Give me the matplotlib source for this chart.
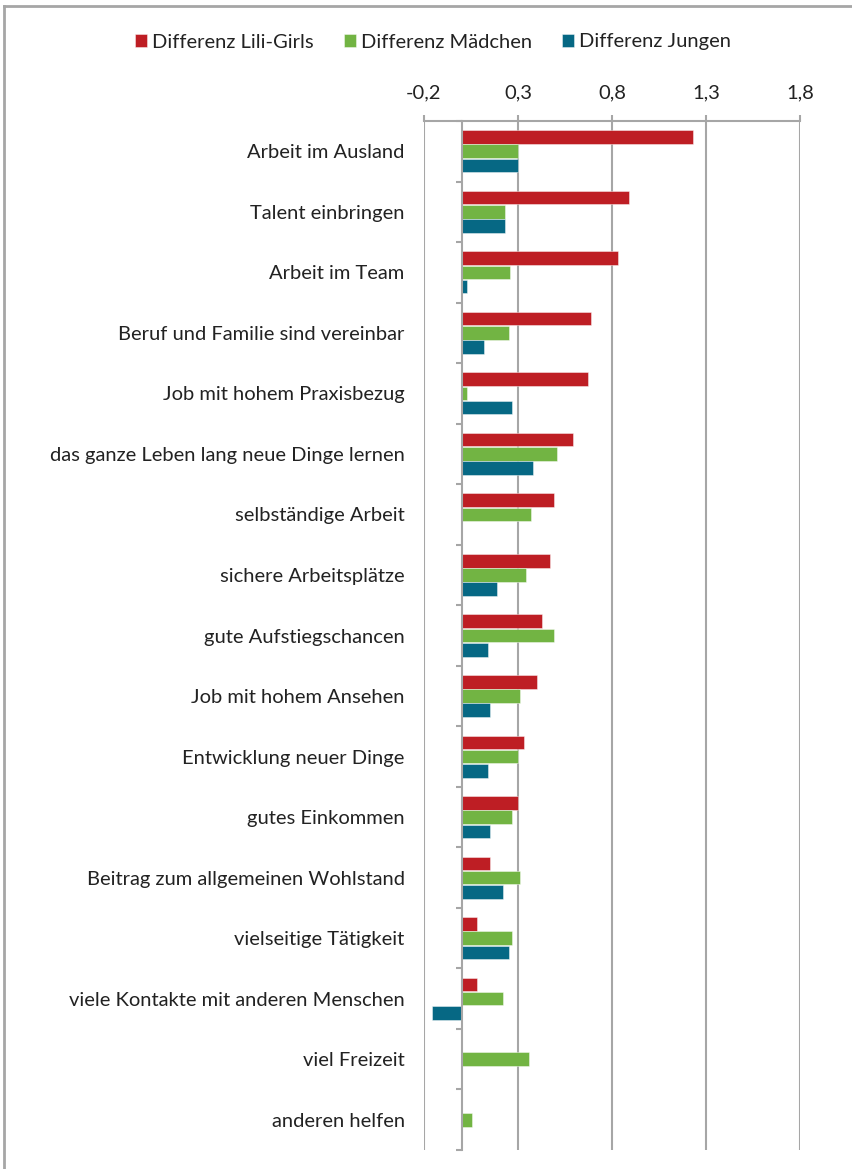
import matplotlib.pyplot as plt
from matplotlib.lines import Line2D
import numpy as np

plt.rcParams['font.family'] = ['Lato', 'DejaVu Sans']

categories = ['Arbeit im Ausland', 'Talent einbringen', 'Arbeit im Team',
              'Beruf und Familie sind vereinbar', 'Job mit hohem Praxisbezug',
              'das ganze Leben lang neue Dinge lernen', 'selbständige Arbeit',
              'sichere Arbeitsplätze', 'gute Aufstiegschancen', 'Job mit hohem Ansehen',
              'Entwicklung neuer Dinge', 'gutes Einkommen',
              'Beitrag zum allgemeinen Wohlstand', 'vielseitige Tätigkeit',
              'viele Kontakte mit anderen Menschen', 'viel Freizeit', 'anderen helfen']
lili_girls = [1.23, 0.89, 0.83, 0.69, 0.67, 0.59, 0.49, 0.47, 0.43, 0.40,
              0.33, 0.30, 0.15, 0.08, 0.08, 0.0, 0.0]
maedchen = [0.30, 0.23, 0.26, 0.25, 0.03, 0.51, 0.37, 0.34, 0.49, 0.31,
            0.30, 0.27, 0.31, 0.27, 0.22, 0.36, 0.055]
jungen = [0.30, 0.23, 0.03, 0.12, 0.27, 0.38, 0.0, 0.19, 0.14, 0.15,
          0.14, 0.15, 0.22, 0.25, -0.16, 0.0, 0.0]
series = [('Differenz Lili-Girls', lili_girls, '#BE1E24'),
          ('Differenz Mädchen', maedchen, '#72B443'),
          ('Differenz Jungen', jungen, '#066884')]
xticks = [-0.2, 0.3, 0.8, 1.3, 1.8]

grey = '#A6A6A6'
txt = '#222222'
fig = plt.figure(figsize=(8.53, 11.69), dpi=100)
ax = fig.add_axes([424 / 853, 1 - 1150 / 1169, 376 / 853, 1029 / 1169])

y = np.arange(len(categories))
h = 0.225
for i, (name, vals, col) in enumerate(series):
    ax.barh(y + (i - 1) * (h + 0.01), vals, height=h, color=col,
            edgecolor=(1, 1, 1, 0.5), linewidth=0.6, label=name, zorder=3)

ax.set_xlim(-0.2, 1.8)
ax.set_ylim(len(categories) - 0.5, -0.5)
ax.xaxis.tick_top()
ax.set_xticks(xticks)
ax.set_xticklabels([f'{t:.1f}'.replace('.', ',') for t in xticks])
ax.tick_params(axis='x', length=4, width=1.5, color=grey, pad=10,
               labelsize=14.5, labelcolor=txt)
ax.grid(axis='x', color=grey, linewidth=1.5, zorder=0)

for s in ['right', 'bottom']:
    ax.spines[s].set_visible(False)
ax.spines['top'].set_color(grey)
ax.spines['top'].set_linewidth(1.5)
ax.spines['left'].set_position(('data', 0))
ax.spines['left'].set_color(grey)
ax.spines['left'].set_linewidth(1.5)
ax.spines['left'].set_zorder(4)

ax.set_yticks(y)
ax.set_yticklabels(categories)
ax.set_yticks(np.arange(len(categories) + 1) - 0.5, minor=True)
ax.tick_params(axis='y', which='major', length=0, pad=41,
               labelsize=14.5, labelcolor=txt)
ax.tick_params(axis='y', which='minor', length=4.5, width=1.5, color=grey)

fig.legend(loc='center', bbox_to_anchor=(433 / 853, 1 - 42 / 1169), ncol=3,
           frameon=False, fontsize=14.5, handlelength=0.6, handleheight=0.6,
           handletextpad=0.25, columnspacing=1.5, labelcolor=txt)

# outer frame (only top and left edges are visible)
fig.add_artist(Line2D([4 / 853, 4 / 853], [0, 1 - 6 / 1169], transform=fig.transFigure,
                      color=grey, linewidth=2))
fig.add_artist(Line2D([4 / 853, 1], [1 - 6 / 1169, 1 - 6 / 1169], transform=fig.transFigure,
                      color=grey, linewidth=2))

fig.savefig('out.png', dpi=100)
